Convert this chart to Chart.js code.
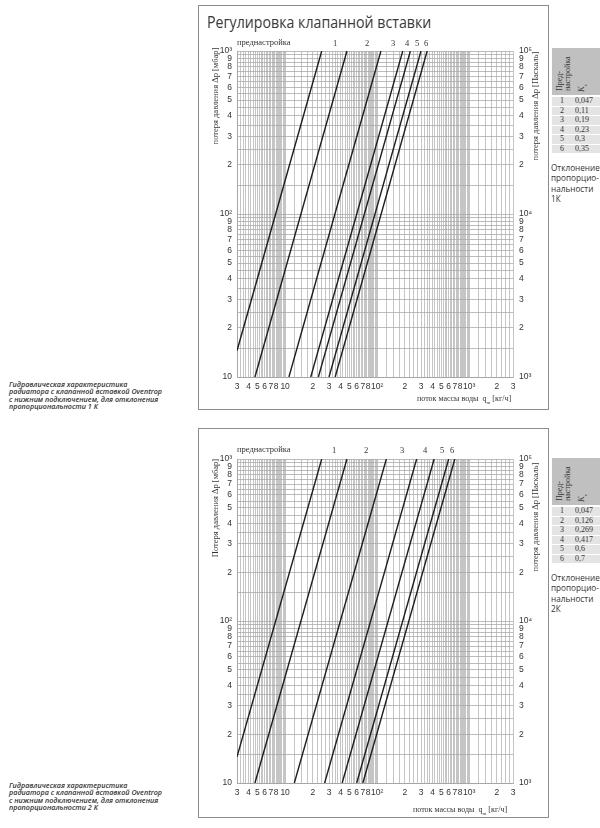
<!DOCTYPE html>
<html>
<head>
<meta charset="utf-8">
<script src="https://cdn.jsdelivr.net/npm/chart.js@4/dist/chart.umd.min.js"></script>
<style>
  html { filter: grayscale(100%); }
  body { margin: 0; width: 600px; height: 828px; position: relative; overflow: hidden; background: #fff; color: #333; font-family: "Liberation Serif", serif; }
  .frame { position: absolute; border: 1px solid #8c8c8c; box-sizing: border-box; }
  .abs { position: absolute; white-space: nowrap; }
  .vt { position: absolute; white-space: nowrap; transform: translate(-50%, -50%) rotate(-90deg); font-size: 8.5px; color: #333; }
  .cap { position: absolute; left: 9px; font: italic 600 7.2px/7.4px "Open Sans", sans-serif; color: #333; }
  .note { position: absolute; left: 551px; font: 8.2px/10.4px "Open Sans", sans-serif; color: #333; }
  .set { position: absolute; font-size: 8.5px; transform: translate(-50%, -50%); }
  canvas { position: absolute; }
</style>
</head>
<body>

<div class="frame" style="left:198px;top:5px;width:351px;height:405px"></div>
<div class="frame" style="left:198px;top:428px;width:351px;height:390px"></div>

<div class="abs" style="left:207px;top:11px;font:15.5px 'Open Sans',sans-serif;color:#3a3a3a;transform-origin:0 0;transform:scaleX(0.915)">Регулировка клапанной вставки</div>

<canvas id="chartTop" width="350" height="404" style="left:198px;top:5px"></canvas>
<canvas id="chartBottom" width="350" height="389" style="left:198px;top:428px"></canvas>

<div class="vt" style="left:215px;top:96px">потеря давления Δp [мбар]</div>
<div class="vt" style="left:535px;top:106px">потеря давления Δp [Паскаль]</div>
<div class="vt" style="left:215px;top:508px">Потеря давления Δp [мбар]</div>
<div class="vt" style="left:535px;top:517px">потеря давления Δp [Паскаль]</div>

<div class="abs" style="left:417px;top:394px;font-size:8px">поток массы воды&nbsp; q<sub style="font-size:5px">m</sub> [кг/ч]</div>
<div class="abs" style="left:413px;top:805px;font-size:8px">поток массы воды&nbsp; q<sub style="font-size:5px">m</sub> [кг/ч]</div>

<div id="setTop"></div>
<div id="setBottom"></div>

<div class="cap" style="top:381px">Гидравлическая характеристика<br>радиатора с клапанной вставкой Oventrop<br>с нижним подключением, для отклонения<br>пропорциональности 1 К</div>
<div class="cap" style="top:782px">Гидравлическая характеристика<br>радиатора с клапанной вставкой Oventrop<br>с нижним подключением, для отклонения<br>пропорциональности 2 К</div>

<div class="note" style="top:163px">Отклонение<br>пропорцио-<br>нальности<br>1К</div>
<div class="note" style="top:573px">Отклонение<br>пропорцио-<br>нальности<br>2К</div>

<div id="tables"></div>

<script>
// axis labels
const flowLabelValues = [3, 4, 5, 6, 7, 8, 10, 20, 30, 40, 50, 60, 70, 80, 100, 200, 300, 400, 500, 600, 700, 800, 1000, 2000, 3000];
const flowLabelTexts = ["3", "4", "5", "6", "7", "8", "10", "2", "3", "4", "5", "6", "7", "8", "10²", "2", "3", "4", "5", "6", "7", "8", "10³", "2", "3"];
const dpLabelValues = [10, 20, 30, 40, 50, 60, 70, 80, 90, 100, 200, 300, 400, 500, 600, 700, 800, 900, 1000];
const dpLabelTexts = ["10", "2", "3", "4", "5", "6", "7", "8", "9", "10²", "2", "3", "4", "5", "6", "7", "8", "9", "10³"];
const paLabelValues = [1000, 2000, 3000, 4000, 5000, 6000, 7000, 8000, 9000, 10000, 20000, 30000, 40000, 50000, 60000, 70000, 80000, 90000, 100000];
const paLabelTexts = ["10³", "2", "3", "4", "5", "6", "7", "8", "9", "10⁴", "2", "3", "4", "5", "6", "7", "8", "9", "10⁵"];

// presetting lines, 1 K (endpoints)
const topFlowStart = [3, 4.7, 11, 19, 23, 30, 35];
const topDpStart = [14.5, 10, 10, 10, 10, 10, 10];
const topFlowEnd = [25, 47, 110, 190, 230, 300, 350];
const topDpEnd = [1000, 1000, 1000, 1000, 1000, 1000, 1000];

// presetting lines, 2 K
const botFlowStart = [3, 4.7, 12.6, 26.9, 41.7, 60, 70];
const botDpStart = [14.5, 10, 10, 10, 10, 10, 10];
const botFlowEnd = [25, 47, 126, 269, 417, 600, 700];
const botDpEnd = [1000, 1000, 1000, 1000, 1000, 1000, 1000];

// tables
const presets = ["1", "2", "3", "4", "5", "6"];
const kvTop = ["0,047", "0,11", "0,19", "0,23", "0,3", "0,35"];
const kvBottom = ["0,047", "0,126", "0,269", "0,417", "0,6", "0,7"];

const gridColor = "#a6a6a6";
const tickFont = { family: "Liberation Sans", size: 8.5 };

// grid: quarter steps in flow, half steps in pressure
const flowGrid = [];
[1, 10, 100, 1000].forEach(d => {
  for (let k = 4; k < 40; k++) {
    const v = k / 4 * d;
    if (v >= 3 && v <= 3000) flowGrid.push(v);
  }
});
const dpGrid = [];
[10, 100].forEach(d => {
  for (let k = 2; k < 20; k++) dpGrid.push(k / 2 * d);
});
dpGrid.push(1000);

function labelFor(v, values, texts) {
  const i = values.findIndex(x => Math.abs(x - v) / x < 1e-6);
  return i < 0 ? "" : texts[i];
}

function makeChart(id, fs, ds, fe, de, topPad, xHeight) {
  const datasets = fs.map((f, i) => ({
    data: [{ x: f, y: ds[i] }, { x: fe[i], y: de[i] }],
    showLine: true,
    borderColor: "#1e1e1e",
    borderWidth: 1.4,
    pointRadius: 0,
    yAxisID: "y"
  }));
  return new Chart(document.getElementById(id), {
    type: "scatter",
    data: { datasets },
    options: {
      responsive: false,
      animation: false,
      layout: { padding: { top: topPad, left: 0, right: 0, bottom: 0 } },
      plugins: { legend: { display: false }, tooltip: { enabled: false } },
      scales: {
        x: {
          type: "logarithmic", min: 3, max: 3000,
          afterBuildTicks: s => { s.ticks = flowGrid.map(v => ({ value: v })); },
          afterFit: s => { s.height = xHeight; },
          grid: { color: gridColor, lineWidth: 0.65, drawTicks: false },
          border: { color: gridColor },
          ticks: { autoSkip: false, maxRotation: 0, padding: 5, color: "#333", font: tickFont,
                   callback: v => labelFor(v, flowLabelValues, flowLabelTexts) }
        },
        y: {
          type: "logarithmic", position: "left", min: 10, max: 1000,
          afterBuildTicks: s => { s.ticks = dpGrid.map(v => ({ value: v })); },
          afterFit: s => { s.width = 39; },
          grid: { color: gridColor, lineWidth: 0.75, drawTicks: false },
          border: { color: gridColor },
          ticks: { autoSkip: false, padding: 5, color: "#333", font: tickFont,
                   callback: v => labelFor(v, dpLabelValues, dpLabelTexts) }
        },
        y2: {
          type: "logarithmic", position: "right", min: 1000, max: 100000,
          afterBuildTicks: s => { s.ticks = paLabelValues.map(v => ({ value: v })); },
          afterFit: s => { s.width = 35; },
          grid: { display: false, drawTicks: false },
          border: { display: false },
          ticks: { autoSkip: false, padding: 6, color: "#333", font: tickFont,
                   callback: v => labelFor(v, paLabelValues, paLabelTexts) }
        }
      }
    }
  });
}

makeChart("chartTop", topFlowStart, topDpStart, topFlowEnd, topDpEnd, 46, 32);
makeChart("chartBottom", botFlowStart, botDpStart, botFlowEnd, botDpEnd, 31, 34);

// presetting numbers above the plots
function addSettings(hostId, y, xs) {
  const host = document.getElementById(hostId);
  const pre = document.createElement("div");
  pre.className = "abs";
  pre.style.cssText = `left:237px;top:${y - 6}px;font-size:8.5px`;
  pre.textContent = "преднастройка";
  host.appendChild(pre);
  presets.forEach((p, i) => {
    const d = document.createElement("div");
    d.className = "set";
    d.style.left = xs[i] + "px";
    d.style.top = y + "px";
    d.textContent = p;
    host.appendChild(d);
  });
}
addSettings("setTop", 43, [335, 367, 393, 407, 417, 426]);
addSettings("setBottom", 450, [334, 366, 402, 425, 442, 452]);

// Kv tables
function addTable(top, kvs) {
  const host = document.getElementById("tables");
  const head = document.createElement("div");
  head.className = "abs";
  head.style.cssText = `left:552px;top:${top}px;width:48px;height:47px;background:#c0c0c0`;
  host.appendChild(head);
  const h1 = document.createElement("div");
  h1.className = "abs";
  h1.style.cssText = `left:556px;top:${top + 43}px;transform-origin:0 0;transform:rotate(-90deg);font:8px/7.5px 'Liberation Serif',serif;color:#333`;
  h1.innerHTML = "Пред-<br>настройка";
  host.appendChild(h1);
  const h2 = document.createElement("div");
  h2.className = "abs";
  h2.style.cssText = `left:576px;top:${top + 44}px;transform-origin:0 0;transform:rotate(-90deg);font:italic 8.5px 'Liberation Serif',serif;color:#333`;
  h2.innerHTML = "K<sub style='font-size:5px'>v</sub>";
  host.appendChild(h2);
  kvs.forEach((kv, i) => {
    const row = document.createElement("div");
    row.className = "abs";
    row.style.cssText = `left:552px;top:${top + 49 + i * 9.5}px;width:48px;height:8.5px;background:#e4e4e4;font:8px/8.5px 'Liberation Serif',serif;color:#333`;
    row.innerHTML = `<span style="position:absolute;left:8px">${presets[i]}</span><span style="position:absolute;left:23px">${kv}</span>`;
    host.appendChild(row);
  });
}
addTable(48, kvTop);
addTable(458, kvBottom);
</script>
</body>
</html>
